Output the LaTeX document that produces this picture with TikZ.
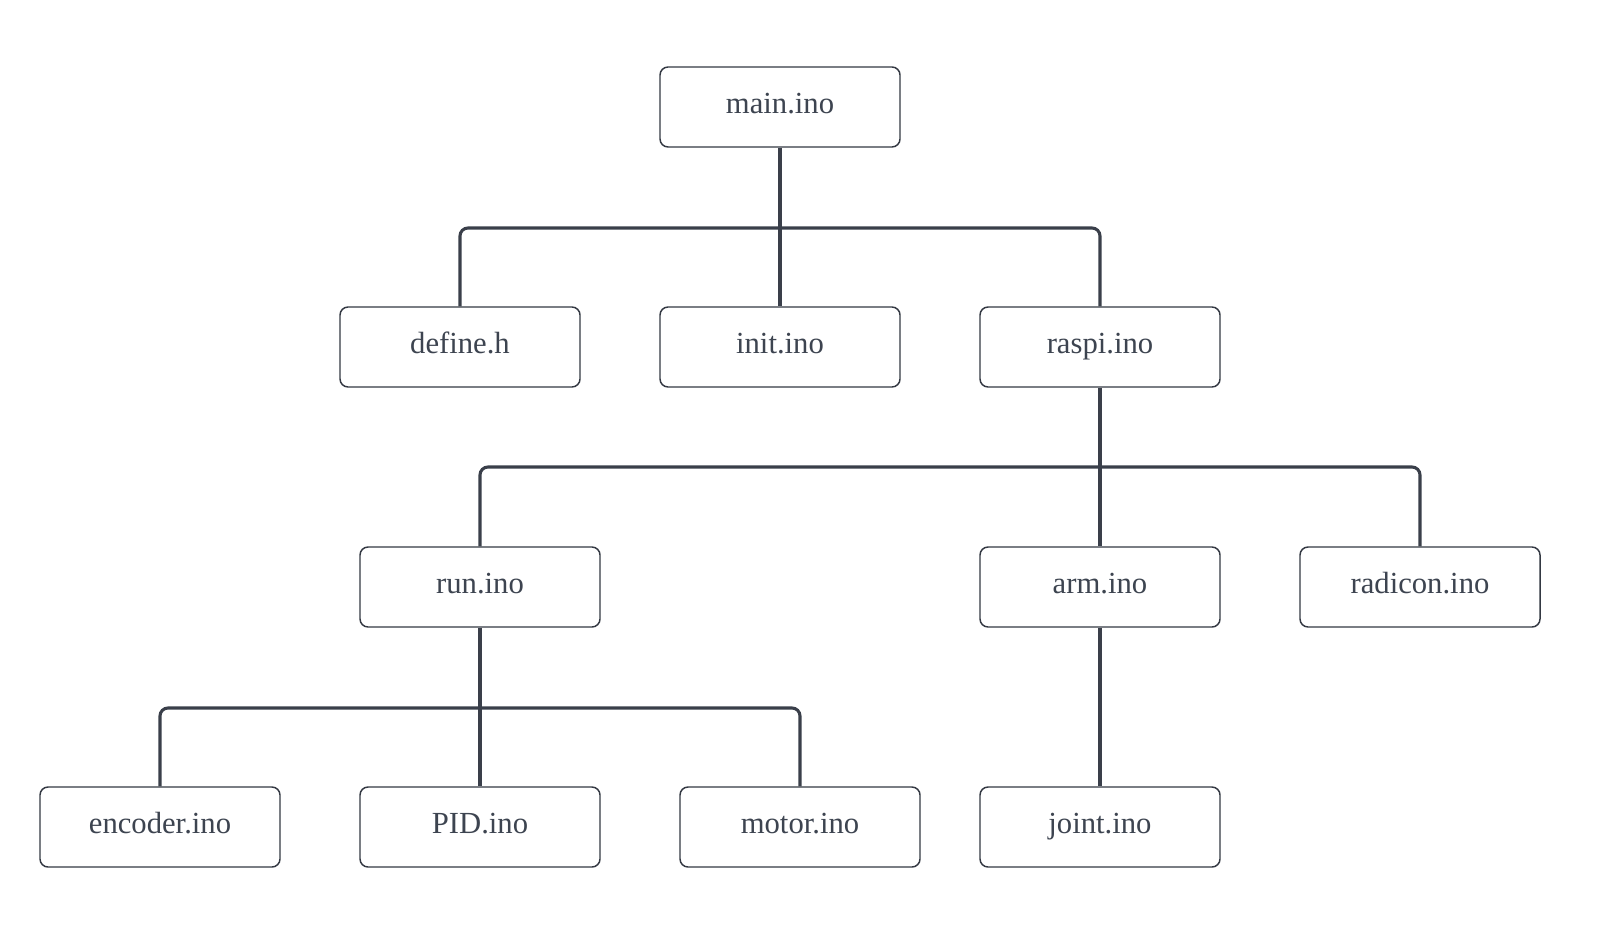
\documentclass[tikz,border=0pt]{standalone}
\usepackage{fontspec}
\setmainfont{Liberation Serif}
\definecolor{linec}{HTML}{3A3F4A}
\definecolor{textc}{HTML}{3D4450}
\begin{document}
\begin{tikzpicture}[x=0.75pt,y=-0.75pt,
  filebox/.style={draw=linec!90!black, line width=1.1pt, rounded corners=6pt, minimum width=180pt, minimum height=60pt, inner sep=0pt, text height=14.5pt, text depth=5pt, text=textc, font=\fontsize{23}{27}\selectfont, fill=white},
  conn/.style={draw=linec, line width=2.3pt, rounded corners=6pt}]
\useasboundingbox[fill=white] (0,0) rectangle (1624,927);
% nodes
\node[filebox] (main) at (780,107) {main.ino};
\node[filebox] (define) at (460,347) {define.h};
\node[filebox] (init) at (780,347) {init.ino};
\node[filebox] (raspi) at (1100,347) {raspi.ino};
\node[filebox] (run) at (480,587) {run.ino};
\node[filebox] (arm) at (1100,587) {arm.ino};
\node[filebox] (radicon) at (1420,587) {radicon.ino};
\node[filebox] (encoder) at (160,827) {encoder.ino};
\node[filebox] (pid) at (480,827) {PID.ino};
\node[filebox] (motor) at (800,827) {motor.ino};
\node[filebox] (joint) at (1100,827) {joint.ino};
\coordinate (b1) at (0,228);
\coordinate (b2) at (0,467);
\coordinate (b3) at (0,708);
% connectors
\draw[conn] (main.south) -- (init.north);
\draw[conn] (define.north) -- (define.north |- b1) -- (raspi.north |- b1) -- (raspi.north);
\draw[conn] (raspi.south) -- (arm.north);
\draw[conn] (run.north) -- (run.north |- b2) -- (radicon.north |- b2) -- (radicon.north);
\draw[conn] (run.south) -- (pid.north);
\draw[conn] (encoder.north) -- (encoder.north |- b3) -- (motor.north |- b3) -- (motor.north);
\draw[conn] (arm.south) -- (joint.north);
\end{tikzpicture}
\end{document}
